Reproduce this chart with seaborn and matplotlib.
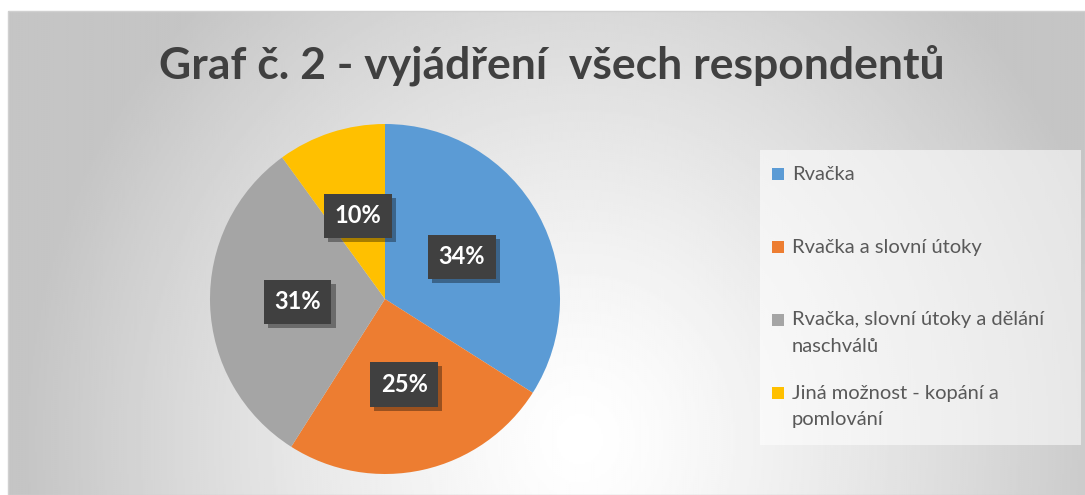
import numpy as np
import matplotlib
matplotlib.use("Agg")
import matplotlib.pyplot as plt
import matplotlib.patheffects as pe
from matplotlib.patches import Rectangle
import seaborn as sns

# data
categories = ["Rvačka", "Rvačka a slovní útoky",
              "Rvačka, slovní útoky a dělání naschválů",
              "Jiná možnost - kopání a pomlování"]
legend_labels = ["Rvačka", "Rvačka a slovní útoky",
                 "Rvačka, slovní útoky a dělání\nnaschválů",
                 "Jiná možnost - kopání a\npomlování"]
shares = [34, 25, 31, 10]
colors = ["#5B9BD5", "#ED7D31", "#A5A5A5", "#FFC000"]
title = "Graf č. 2 - vyjádření  všech respondentů"

W, H = 1085, 495
sns.set_style("white")
plt.rcParams["font.family"] = ["Lato", "DejaVu Sans"]
palette = sns.color_palette(colors)

fig = plt.figure(figsize=(W / 100, H / 100), dpi=100)


def fx(x):
    return x / W


def fy(y):
    return 1 - y / H


# radial grey background of the chart area
bg = fig.add_axes([fx(8), 0, fx(1085) - fx(8), fy(11)])
xx, yy = np.meshgrid(np.linspace(8, 1085, 540), np.linspace(11, 495, 242))
d = np.sqrt(((xx - 580) / 560) ** 2 + ((yy - 440) / 600) ** 2)
t = np.clip(d, 0, 1) ** 1.3
shade = 1.0 - t * (1.0 - 0.77)
bg.imshow(shade, cmap="gray", vmin=0, vmax=1, extent=[0, 1, 0, 1],
          aspect="auto", origin="upper", interpolation="bilinear")
bg.axis("off")
fig.patches.append(Rectangle((fx(8), 0), fx(1085) - fx(8), fy(11),
                             transform=fig.transFigure, fill=False,
                             ec="#d0d0d0", lw=1))

# pie
cx, cy, r = 385, 299, 175
ax = fig.add_axes([fx(cx - r), fy(cy + r), 2 * r / W, 2 * r / H])
wedges, _, autotexts = ax.pie(
    shares, colors=palette, startangle=90, counterclock=False,
    autopct=lambda p: f"{p:.0f}%", pctdistance=0.5,
    wedgeprops=dict(linewidth=0),
    textprops=dict(color="white", fontsize=17, fontweight="bold"))
ax.set_xlim(-1, 1)
ax.set_ylim(-1, 1)
for txt in autotexts:
    txt.set_bbox(dict(boxstyle="square,pad=0.45", fc="#404040", ec="none"))
    txt.get_bbox_patch().set_path_effects(
        [pe.SimplePatchShadow(offset=(3, -3), shadow_rgbFace="black", alpha=0.35),
         pe.Normal()])

# title
fig.text(fx(552), fy(65), title, ha="center", va="center",
         fontsize=32, fontweight="bold", color="#404040")

# legend
fig.patches.append(Rectangle((fx(760), fy(445)), fx(1081) - fx(760),
                             fy(150) - fy(445), transform=fig.transFigure,
                             fc="white", alpha=0.55, ec="none"))
for i, (lab, col) in enumerate(zip(legend_labels, palette)):
    y0 = 174 + i * 73
    fig.patches.append(Rectangle((fx(772), fy(y0 + 6)), 12 / W, 12 / H,
                                 transform=fig.transFigure, fc=col, ec="none"))
    for k, line in enumerate(lab.split("\n")):
        fig.text(fx(792), fy(y0 + k * 27), line, ha="left", va="center",
                 fontsize=14.5, color="#595959")

fig.savefig("out.png", dpi=100)
